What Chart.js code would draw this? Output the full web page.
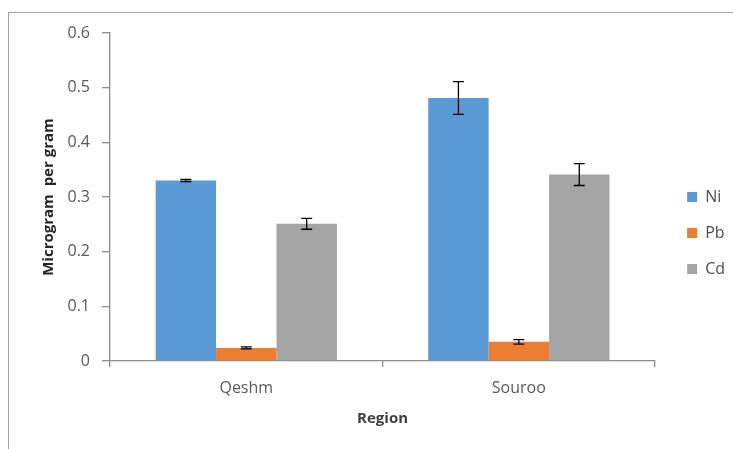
<!DOCTYPE html>
<html>
<head>
<meta charset="utf-8">
<script src="https://cdn.jsdelivr.net/npm/chart.js@4"></script>
<style>
  html, body { margin:0; padding:0; background:#fff; }
  #wrap { position:relative; width:733px; height:449px; }
  #frame { position:absolute; left:8px; top:12px; right:0; bottom:0; border-left:1px solid #a0a0a0; border-top:1px solid #a0a0a0; pointer-events:none; }
  canvas { position:absolute; left:0; top:0; }
</style>
</head>
<body>
<div id="wrap">
  <canvas id="chart" width="733" height="449"></canvas>
  <div id="frame"></div>
</div>
<script>
const regions = ["Qeshm", "Souroo"];
const niValues = [0.33, 0.481];
const pbValues = [0.024, 0.035];
const cdValues = [0.251, 0.341];
const niErrors = [0.002, 0.03];
const pbErrors = [0.002, 0.004];
const cdErrors = [0.01, 0.02];
const yTicks = [0, 0.1, 0.2, 0.3, 0.4, 0.5, 0.6];

const FONT = "'Open Sans', 'Liberation Sans', sans-serif";
const axisGray = "#8c8c8c";

// error bars drawn on top of each bar
const errorBars = {
  id: "errorBars",
  afterDatasetsDraw(chart){
    const ctx = chart.ctx;
    const y = chart.scales.y;
    ctx.save();
    ctx.strokeStyle = "#000";
    ctx.lineWidth = 1.3;
    chart.data.datasets.forEach((ds, i)=>{
      const meta = chart.getDatasetMeta(i);
      meta.data.forEach((bar, j)=>{
        const v = ds.data[j], e = ds.errors[j];
        const top = y.getPixelForValue(v + e);
        const bot = y.getPixelForValue(v - e);
        const half = 5.5;
        ctx.beginPath();
        ctx.moveTo(bar.x, top); ctx.lineTo(bar.x, bot);
        ctx.moveTo(bar.x - half, top); ctx.lineTo(bar.x + half, top);
        ctx.moveTo(bar.x - half, bot); ctx.lineTo(bar.x + half, bot);
        ctx.stroke();
      });
    });
    ctx.restore();
  }
};

// nudge the legend a bit to the right, like the original
const legendShift = {
  id: "legendShift",
  afterLayout(chart){
    if(chart.legend){ chart.legend.left += 12; chart.legend.right += 12; }
  }
};

new Chart(document.getElementById("chart"), {
  type: "bar",
  data: {
    labels: regions,
    datasets: [
      { label: "Ni", data: niValues, errors: niErrors, backgroundColor: "#5b9bd5" },
      { label: "Pb", data: pbValues, errors: pbErrors, backgroundColor: "#ed7d31" },
      { label: "Cd", data: cdValues, errors: cdErrors, backgroundColor: "#a5a5a5" }
    ]
  },
  options: {
    responsive: false,
    animation: false,
    devicePixelRatio: 1,
    layout: { padding: { left: 40, top: 33, right: 10, bottom: 16 } },
    datasets: { bar: { categoryPercentage: 0.665, barPercentage: 1 } },
    plugins: {
      tooltip: { enabled: false },
      legend: {
        position: "right",
        labels: {
          boxWidth: 10, boxHeight: 10, padding: 20,
          color: "#4d4d4d",
          font: { family: FONT, size: 16 }
        }
      }
    },
    scales: {
      x: {
        afterFit: s => { s.height = 72; },
        border: { color: axisGray, width: 1.3 },
        grid: { offset: true, drawOnChartArea: false, tickLength: 6, color: axisGray, lineWidth: 1.3 },
        ticks: { color: "#595959", padding: 12, font: { family: FONT, size: 16 } },
        title: { display: true, text: "Region", color: "#404040", padding: { top: 0, bottom: 5 },
                 font: { family: FONT, size: 15, weight: "bold" } }
      },
      y: {
        min: 0, max: 0.6,
        afterFit: s => { s.width = 70; },
        afterBuildTicks: s => { s.ticks = yTicks.map(v => ({ value: v })); },
        border: { color: axisGray, width: 1.3 },
        grid: { drawOnChartArea: false, tickLength: 8, color: axisGray, lineWidth: 1.3 },
        ticks: { color: "#595959", padding: 12, font: { family: FONT, size: 16 } },
        title: { display: true, text: "Microgram  per gram", color: "#262626", padding: 0,
                 font: { family: FONT, size: 15, weight: "bold" } }
      }
    }
  },
  plugins: [errorBars, legendShift]
});
</script>
</body>
</html>
